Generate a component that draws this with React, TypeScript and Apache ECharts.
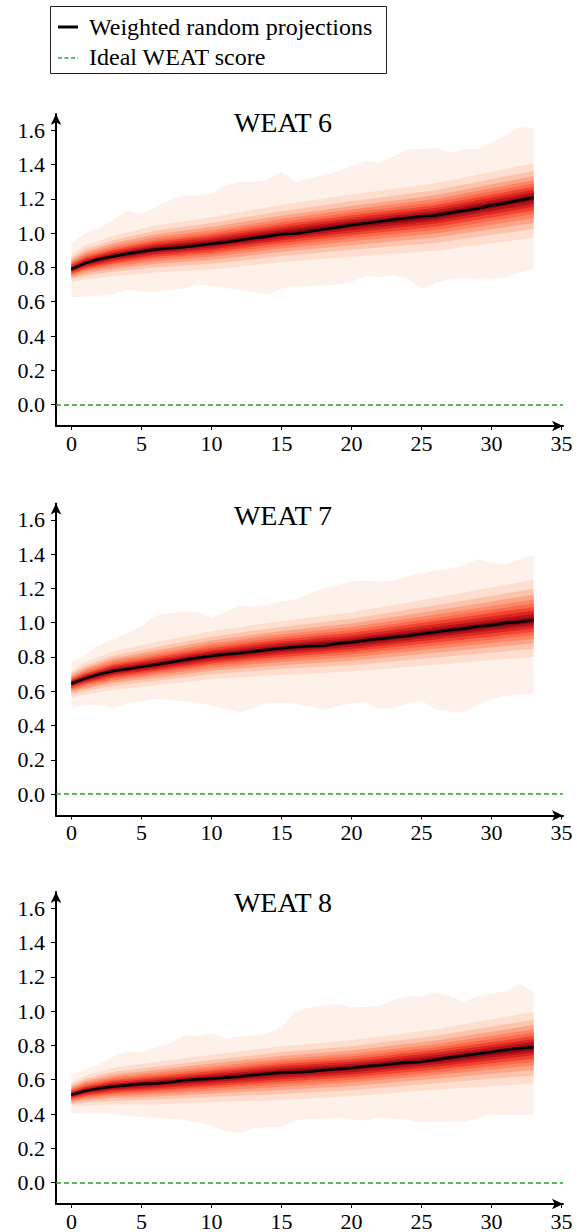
import React, { useEffect, useRef } from "react";
import * as echarts from "echarts";

// ---------- data ----------
const STEPS = [0, 1, 2, 3, 4, 5, 6, 7, 8, 9, 10, 11, 12, 13, 14, 15, 16, 17, 18, 19, 20, 21, 22, 23, 24, 25, 26, 27, 28, 29, 30, 31, 32, 33];
const BAND_STEPS = [0, 1, 3, 6, 10, 15, 20, 26, 33];

const X_TICKS = [0, 5, 10, 15, 20, 25, 30, 35];
const Y_TICKS = [0, 0.2, 0.4, 0.6, 0.8, 1.0, 1.2, 1.4, 1.6];
const IDEAL_SCORE = 0;
const TITLES = ["WEAT 6", "WEAT 7", "WEAT 8"];
const LEGEND_LABELS = ["Weighted random projections", "Ideal WEAT score"];

// WEAT 6
const W6_MEDIAN = [0.79, 0.825, 0.85, 0.865, 0.88, 0.893, 0.905, 0.912, 0.918, 0.928, 0.938, 0.947, 0.958, 0.972, 0.98, 0.995, 0.997, 1.01, 1.022, 1.033, 1.047, 1.058, 1.068, 1.08, 1.088, 1.098, 1.103, 1.118, 1.13, 1.142, 1.163, 1.175, 1.192, 1.207];
const W6_MAX = [0.94, 1.0, 1.03, 1.08, 1.13, 1.11, 1.15, 1.19, 1.22, 1.22, 1.23, 1.28, 1.3, 1.3, 1.31, 1.36, 1.3, 1.32, 1.34, 1.36, 1.39, 1.42, 1.41, 1.45, 1.49, 1.49, 1.5, 1.47, 1.49, 1.49, 1.53, 1.57, 1.62, 1.61];
const W6_MIN = [0.625, 0.63, 0.635, 0.645, 0.67, 0.66, 0.655, 0.67, 0.675, 0.7, 0.692, 0.68, 0.668, 0.655, 0.642, 0.675, 0.69, 0.69, 0.695, 0.7, 0.715, 0.75, 0.742, 0.755, 0.735, 0.675, 0.71, 0.73, 0.74, 0.73, 0.73, 0.74, 0.77, 0.79];
// lower percentiles P05..P45 at BAND_STEPS
const W6_LOWER = [
  [0.715, 0.73, 0.75, 0.77, 0.788, 0.83, 0.862, 0.898, 0.972],
  [0.732, 0.751, 0.775, 0.8, 0.821, 0.866, 0.903, 0.943, 1.024],
  [0.743, 0.765, 0.793, 0.82, 0.844, 0.891, 0.93, 0.974, 1.059],
  [0.752, 0.777, 0.806, 0.836, 0.862, 0.911, 0.953, 0.998, 1.087],
  [0.759, 0.786, 0.818, 0.85, 0.877, 0.927, 0.971, 1.019, 1.111],
  [0.766, 0.795, 0.828, 0.862, 0.89, 0.942, 0.988, 1.037, 1.132],
  [0.773, 0.803, 0.839, 0.874, 0.904, 0.957, 1.004, 1.056, 1.153],
  [0.779, 0.811, 0.848, 0.885, 0.916, 0.97, 1.019, 1.072, 1.172],
  [0.784, 0.818, 0.856, 0.895, 0.926, 0.982, 1.033, 1.087, 1.189],
];
// upper percentiles P95..P55 at BAND_STEPS
const W6_UPPER = [
  [0.875, 0.93, 0.985, 1.045, 1.093, 1.165, 1.225, 1.291, 1.407],
  [0.856, 0.907, 0.959, 1.014, 1.059, 1.128, 1.186, 1.25, 1.363],
  [0.844, 0.891, 0.941, 0.993, 1.036, 1.102, 1.159, 1.221, 1.333],
  [0.833, 0.879, 0.926, 0.976, 1.017, 1.082, 1.138, 1.199, 1.309],
  [0.825, 0.868, 0.914, 0.962, 1.002, 1.065, 1.12, 1.18, 1.289],
  [0.817, 0.859, 0.903, 0.95, 0.988, 1.049, 1.104, 1.163, 1.271],
  [0.81, 0.849, 0.893, 0.937, 0.974, 1.034, 1.088, 1.146, 1.253],
  [0.803, 0.841, 0.883, 0.926, 0.961, 1.021, 1.074, 1.131, 1.237],
  [0.797, 0.833, 0.874, 0.916, 0.95, 1.008, 1.061, 1.117, 1.222],
];

// WEAT 7
const W7_MEDIAN = [0.645, 0.675, 0.7, 0.718, 0.73, 0.742, 0.755, 0.768, 0.782, 0.795, 0.805, 0.815, 0.822, 0.832, 0.842, 0.85, 0.858, 0.864, 0.864, 0.878, 0.885, 0.897, 0.906, 0.915, 0.922, 0.935, 0.945, 0.955, 0.965, 0.977, 0.985, 0.998, 1.003, 1.015];
const W7_MAX = [0.77, 0.81, 0.87, 0.905, 0.94, 0.98, 1.04, 1.055, 1.065, 1.06, 1.03, 1.06, 1.1, 1.095, 1.105, 1.125, 1.135, 1.17, 1.2, 1.22, 1.24, 1.245, 1.24, 1.245, 1.27, 1.29, 1.305, 1.315, 1.335, 1.37, 1.35, 1.34, 1.37, 1.395];
const W7_MIN = [0.5, 0.52, 0.52, 0.5, 0.53, 0.54, 0.555, 0.55, 0.54, 0.532, 0.515, 0.495, 0.478, 0.5, 0.53, 0.532, 0.527, 0.512, 0.492, 0.508, 0.53, 0.535, 0.495, 0.5, 0.53, 0.545, 0.495, 0.48, 0.478, 0.52, 0.555, 0.57, 0.582, 0.585];
const W7_LOWER = [
  [0.565, 0.58, 0.608, 0.635, 0.67, 0.695, 0.715, 0.755, 0.8],
  [0.583, 0.601, 0.632, 0.661, 0.7, 0.729, 0.752, 0.797, 0.847],
  [0.595, 0.615, 0.649, 0.679, 0.72, 0.752, 0.778, 0.825, 0.88],
  [0.604, 0.627, 0.662, 0.694, 0.736, 0.771, 0.798, 0.848, 0.905],
  [0.612, 0.636, 0.673, 0.706, 0.75, 0.786, 0.815, 0.867, 0.927],
  [0.619, 0.645, 0.683, 0.717, 0.762, 0.8, 0.831, 0.884, 0.946],
  [0.627, 0.653, 0.693, 0.727, 0.774, 0.814, 0.846, 0.901, 0.966],
  [0.633, 0.661, 0.702, 0.737, 0.785, 0.827, 0.86, 0.917, 0.983],
  [0.639, 0.668, 0.71, 0.746, 0.795, 0.838, 0.872, 0.93, 0.998],
];
const W7_UPPER = [
  [0.72, 0.77, 0.833, 0.885, 0.95, 1.01, 1.06, 1.145, 1.25],
  [0.704, 0.749, 0.808, 0.856, 0.918, 0.975, 1.022, 1.101, 1.198],
  [0.692, 0.735, 0.791, 0.837, 0.896, 0.951, 0.995, 1.071, 1.163],
  [0.683, 0.724, 0.777, 0.821, 0.879, 0.932, 0.974, 1.047, 1.135],
  [0.676, 0.714, 0.765, 0.808, 0.865, 0.916, 0.957, 1.027, 1.111],
  [0.669, 0.705, 0.755, 0.797, 0.851, 0.901, 0.941, 1.009, 1.09],
  [0.662, 0.697, 0.745, 0.785, 0.838, 0.887, 0.925, 0.991, 1.069],
  [0.656, 0.689, 0.735, 0.775, 0.827, 0.874, 0.911, 0.975, 1.05],
  [0.651, 0.682, 0.727, 0.765, 0.816, 0.862, 0.899, 0.96, 1.033],
];

// WEAT 8
const W8_MEDIAN = [0.512, 0.535, 0.55, 0.56, 0.568, 0.577, 0.578, 0.585, 0.597, 0.602, 0.606, 0.612, 0.618, 0.627, 0.635, 0.642, 0.643, 0.646, 0.655, 0.662, 0.668, 0.678, 0.685, 0.693, 0.7, 0.704, 0.716, 0.73, 0.74, 0.752, 0.762, 0.774, 0.784, 0.79];
const W8_MAX = [0.63, 0.66, 0.69, 0.735, 0.765, 0.76, 0.79, 0.81, 0.86, 0.855, 0.873, 0.84, 0.852, 0.858, 0.872, 0.905, 1.0, 1.02, 1.035, 1.04, 1.022, 1.025, 1.03, 1.065, 1.085, 1.088, 1.11, 1.09, 1.055, 1.085, 1.105, 1.115, 1.16, 1.11];
const W8_MIN = [0.405, 0.405, 0.404, 0.398, 0.39, 0.382, 0.377, 0.372, 0.366, 0.352, 0.33, 0.3, 0.288, 0.315, 0.322, 0.326, 0.36, 0.373, 0.366, 0.38, 0.366, 0.362, 0.38, 0.37, 0.368, 0.35, 0.355, 0.356, 0.356, 0.372, 0.392, 0.395, 0.395, 0.395];
const W8_LOWER = [
  [0.445, 0.45, 0.455, 0.456, 0.468, 0.482, 0.503, 0.541, 0.578],
  [0.459, 0.468, 0.478, 0.484, 0.499, 0.517, 0.539, 0.58, 0.625],
  [0.468, 0.48, 0.494, 0.502, 0.519, 0.54, 0.564, 0.606, 0.657],
  [0.476, 0.49, 0.506, 0.517, 0.536, 0.559, 0.584, 0.627, 0.683],
  [0.483, 0.499, 0.517, 0.529, 0.55, 0.575, 0.6, 0.644, 0.704],
  [0.489, 0.507, 0.526, 0.54, 0.562, 0.589, 0.615, 0.66, 0.723],
  [0.496, 0.515, 0.536, 0.55, 0.574, 0.603, 0.63, 0.676, 0.742],
  [0.502, 0.522, 0.544, 0.56, 0.586, 0.616, 0.644, 0.69, 0.759],
  [0.507, 0.528, 0.552, 0.569, 0.596, 0.629, 0.656, 0.703, 0.774],
];
const W8_UPPER = [
  [0.585, 0.625, 0.67, 0.703, 0.746, 0.795, 0.83, 0.895, 0.995],
  [0.569, 0.605, 0.646, 0.676, 0.715, 0.761, 0.795, 0.856, 0.95],
  [0.558, 0.592, 0.629, 0.657, 0.694, 0.739, 0.771, 0.829, 0.919],
  [0.55, 0.582, 0.616, 0.642, 0.677, 0.72, 0.751, 0.807, 0.894],
  [0.543, 0.573, 0.605, 0.629, 0.663, 0.705, 0.735, 0.79, 0.874],
  [0.537, 0.564, 0.595, 0.618, 0.651, 0.691, 0.72, 0.773, 0.855],
  [0.529, 0.556, 0.585, 0.607, 0.638, 0.678, 0.705, 0.757, 0.837],
  [0.523, 0.549, 0.577, 0.597, 0.627, 0.665, 0.692, 0.743, 0.821],
  [0.518, 0.542, 0.569, 0.588, 0.617, 0.654, 0.68, 0.73, 0.805],
];

// ---------- styles ----------
const FONT = "Liberation Serif";
const LAYER_COLORS = ["#fef1ea", "#fedecf", "#fdc4ad", "#fca487", "#fc8767", "#fb6a4a", "#f14432", "#d92623", "#b61319", "#850711"];
const GREEN = "#2ca02c";
const GRID_TOPS = [114, 503.5, 892];
const GRID_LEFT = 56;
const GRID_WIDTH = 507;
const GRID_HEIGHT = 312;
const TITLE_Y = [122, 515, 902];

type Layer = { xs: number[]; hi: number[]; lo: number[]; color: string };

const CHARTS = [
  { median: W6_MEDIAN, max: W6_MAX, min: W6_MIN, lower: W6_LOWER, upper: W6_UPPER },
  { median: W7_MEDIAN, max: W7_MAX, min: W7_MIN, lower: W7_LOWER, upper: W7_UPPER },
  { median: W8_MEDIAN, max: W8_MAX, min: W8_MIN, lower: W8_LOWER, upper: W8_UPPER },
];

function buildLayers(c: (typeof CHARTS)[number]): Layer[] {
  const layers: Layer[] = [{ xs: STEPS, hi: c.max, lo: c.min, color: LAYER_COLORS[0] }];
  c.lower.forEach((lo, k) => {
    layers.push({ xs: BAND_STEPS, hi: c.upper[k], lo, color: LAYER_COLORS[k + 1] });
  });
  return layers;
}

function buildOption() {
  const grids: any[] = [];
  const xAxes: any[] = [];
  const yAxes: any[] = [];
  const series: any[] = [];
  const graphics: any[] = [];

  CHARTS.forEach((c, i) => {
    grids.push({ left: GRID_LEFT, top: GRID_TOPS[i], width: GRID_WIDTH, height: GRID_HEIGHT });
    xAxes.push({
      gridIndex: i,
      type: "value",
      min: -1.1,
      max: 35.1,
      axisLine: {
        show: true,
        onZero: false,
        symbol: ["none", "arrow"],
        symbolSize: [8, 11],
        lineStyle: { color: "#000", width: 2 },
      },
      axisTick: { show: true, customValues: X_TICKS, length: 4, lineStyle: { color: "#000", width: 1 } },
      axisLabel: { customValues: X_TICKS, margin: 6, color: "#000", fontSize: 22, fontFamily: FONT },
      splitLine: { show: false },
    });
    yAxes.push({
      gridIndex: i,
      type: "value",
      min: -0.125,
      max: 1.695,
      axisLine: {
        show: true,
        onZero: false,
        symbol: ["none", "arrow"],
        symbolSize: [8, 11],
        lineStyle: { color: "#000", width: 2 },
      },
      axisTick: { show: true, customValues: Y_TICKS, length: 5, lineStyle: { color: "#000", width: 1 } },
      axisLabel: {
        customValues: Y_TICKS,
        margin: 11,
        color: "#000",
        fontSize: 22,
        fontFamily: FONT,
        formatter: (v: number) => Number(v).toFixed(1),
      },
      splitLine: { show: false },
    });

    const layers = buildLayers(c);
    series.push({
      type: "custom",
      xAxisIndex: i,
      yAxisIndex: i,
      silent: true,
      z: 1,
      data: layers.map((l) => [l.xs[0], l.hi[0]]),
      renderItem: (params: any, api: any) => {
        const l = layers[params.dataIndex];
        const pts: number[][] = [];
        for (let j = 0; j < l.xs.length; j++) pts.push(api.coord([l.xs[j], l.hi[j]]));
        for (let j = l.xs.length - 1; j >= 0; j--) pts.push(api.coord([l.xs[j], l.lo[j]]));
        return { type: "polygon", shape: { points: pts }, style: { fill: l.color } };
      },
    });
    series.push({
      type: "line",
      name: LEGEND_LABELS[1],
      xAxisIndex: i,
      yAxisIndex: i,
      data: [],
      z: 2,
      silent: true,
      markLine: {
        silent: true,
        symbol: ["none", "none"],
        label: { show: false },
        lineStyle: { color: GREEN, width: 1.6, type: [5, 3] },
        data: [{ yAxis: IDEAL_SCORE }],
      },
    });
    series.push({
      type: "line",
      name: LEGEND_LABELS[0],
      xAxisIndex: i,
      yAxisIndex: i,
      data: STEPS.map((x, j) => [x, c.median[j]]),
      symbol: "none",
      showSymbol: false,
      z: 3,
      silent: true,
      lineStyle: { color: "#000", width: 2.5 },
    });

    graphics.push({
      type: "text",
      x: 283,
      y: TITLE_Y[i],
      z: 20,
      style: {
        text: TITLES[i],
        fontSize: 28,
        fontFamily: FONT,
        fill: "#000",
        align: "center",
        verticalAlign: "middle",
      },
    });
  });

  // legend box
  graphics.push(
    {
      type: "rect",
      z: 20,
      shape: { x: 50.5, y: 6.5, width: 336, height: 67 },
      style: { fill: "#fff", stroke: "#222", lineWidth: 1 },
    },
    {
      type: "line",
      z: 21,
      shape: { x1: 58, y1: 27, x2: 78, y2: 27 },
      style: { stroke: "#000", lineWidth: 3 },
    },
    {
      type: "text",
      z: 21,
      x: 89,
      y: 27,
      style: { text: LEGEND_LABELS[0], fontSize: 24, fontFamily: FONT, fill: "#000", verticalAlign: "middle" },
    },
    {
      type: "line",
      z: 21,
      shape: { x1: 58, y1: 58, x2: 78, y2: 58 },
      style: { stroke: GREEN, lineWidth: 1.6, lineDash: [4, 2.5] },
    },
    {
      type: "text",
      z: 21,
      x: 89,
      y: 57,
      style: { text: LEGEND_LABELS[1], fontSize: 24, fontFamily: FONT, fill: "#000", verticalAlign: "middle" },
    }
  );

  return {
    animation: false,
    backgroundColor: "#fff",
    textStyle: { fontFamily: FONT },
    grid: grids,
    xAxis: xAxes,
    yAxis: yAxes,
    series,
    graphic: graphics,
  };
}

export default function App() {
  const ref = useRef<HTMLDivElement>(null);
  useEffect(() => {
    if (!ref.current) return;
    const chart = echarts.init(ref.current, null, { renderer: "svg" });
    chart.setOption(buildOption());
    return () => chart.dispose();
  }, []);
  return (
    <div
      ref={ref}
      style={{ position: "absolute", left: 0, top: 0, width: 579, height: 1232, background: "#fff" }}
    />
  );
}
